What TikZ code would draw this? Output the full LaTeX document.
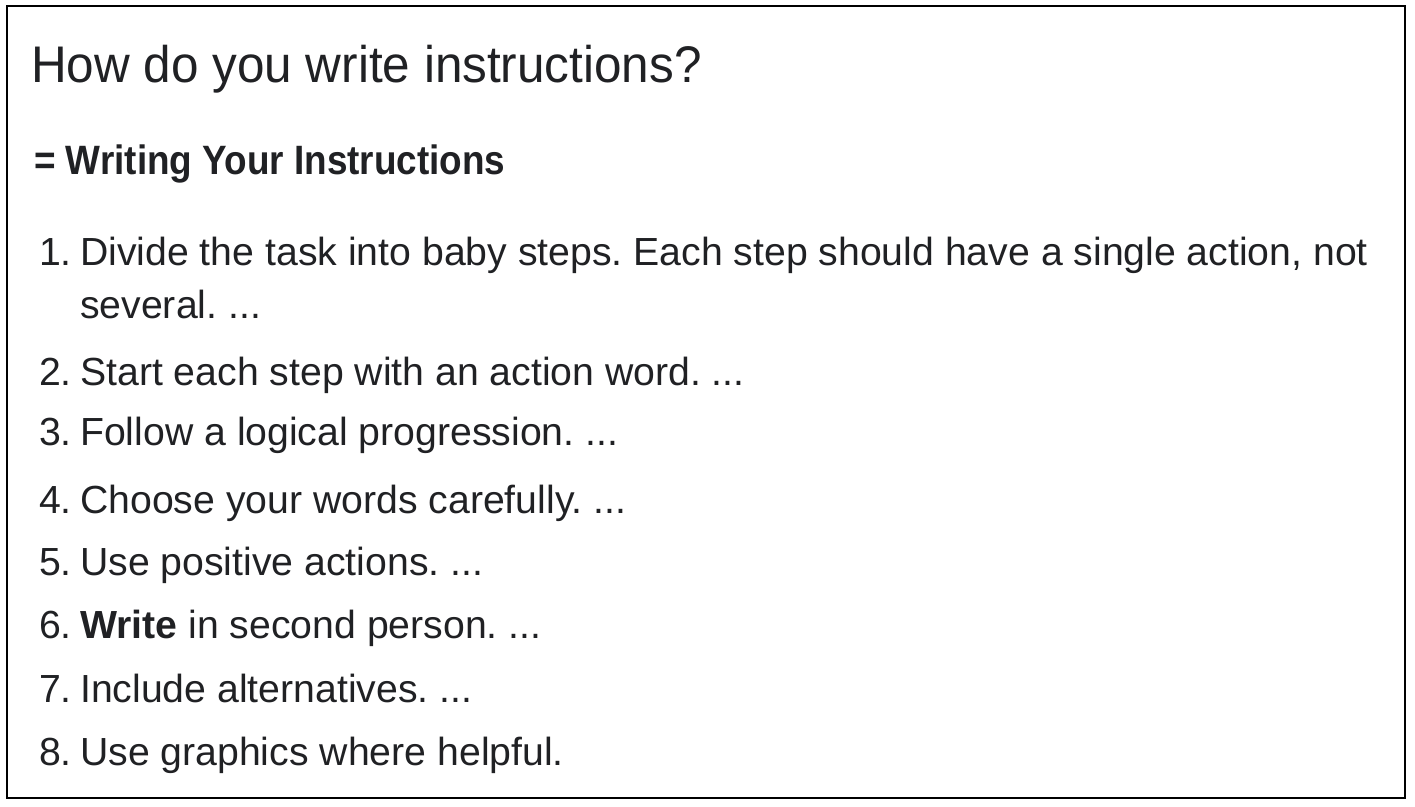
\documentclass[tikz,border=0pt]{standalone}
\usepackage{fontspec}
\setmainfont{Liberation Sans}
\definecolor{ink}{HTML}{202124}
\frenchspacing
\begin{document}
\frenchspacing
\begin{tikzpicture}[x=1bp,y=-1bp,
  txt/.style={anchor=base west, inner sep=0pt, text=ink, font=\fontsize{39.2bp}{47bp}\selectfont\frenchspacing},
  titletxt/.style={txt, font=\fontsize{51.5bp}{59bp}\selectfont\frenchspacing},
  headtxt/.style={txt, font=\fontsize{41bp}{48bp}\selectfont\bfseries},
  frame/.style={draw=black, line width=2bp}]
\useasboundingbox (0,0) rectangle (1415,806);
\draw[frame] (6.8,5.8) rectangle (1404.8,797.8);
\node[titletxt] (title) at (31,82) {\scalebox{0.96}[1]{How do you write instructions?}};
\node[headtxt] (head) at (34,174) {\scalebox{0.9}[1]{= Writing Your Instructions}};
\node[txt] (n1) at (39,265) {1.};
\node[txt] (t1) at (80,265) {Divide the task into baby steps. Each step should have a single action, not};
\node[txt] (t1b) at (80,318) {several. ...};
\node[txt] (n2) at (39,385) {2.};
\node[txt] (t2) at (80,385) {Start each step with an action word. ...};
\node[txt] (n3) at (39,445) {3.};
\node[txt] (t3) at (80,445) {Follow a logical progression. ...};
\node[txt] (n4) at (39,513) {4.};
\node[txt] (t4) at (80,513) {Choose your words carefully. ...};
\node[txt] (n5) at (39,575) {5.};
\node[txt] (t5) at (80,575) {Use positive actions. ...};
\node[txt] (n6) at (39,638) {6.};
\node[txt] (t6) at (80,638) {\textbf{Write} in second person. ...};
\node[txt] (n7) at (39,702) {7.};
\node[txt] (t7) at (80,702) {Include alternatives. ...};
\node[txt] (n8) at (39,765) {8.};
\node[txt] (t8) at (80,765) {Use graphics where helpful.};
\end{tikzpicture}
\end{document}
